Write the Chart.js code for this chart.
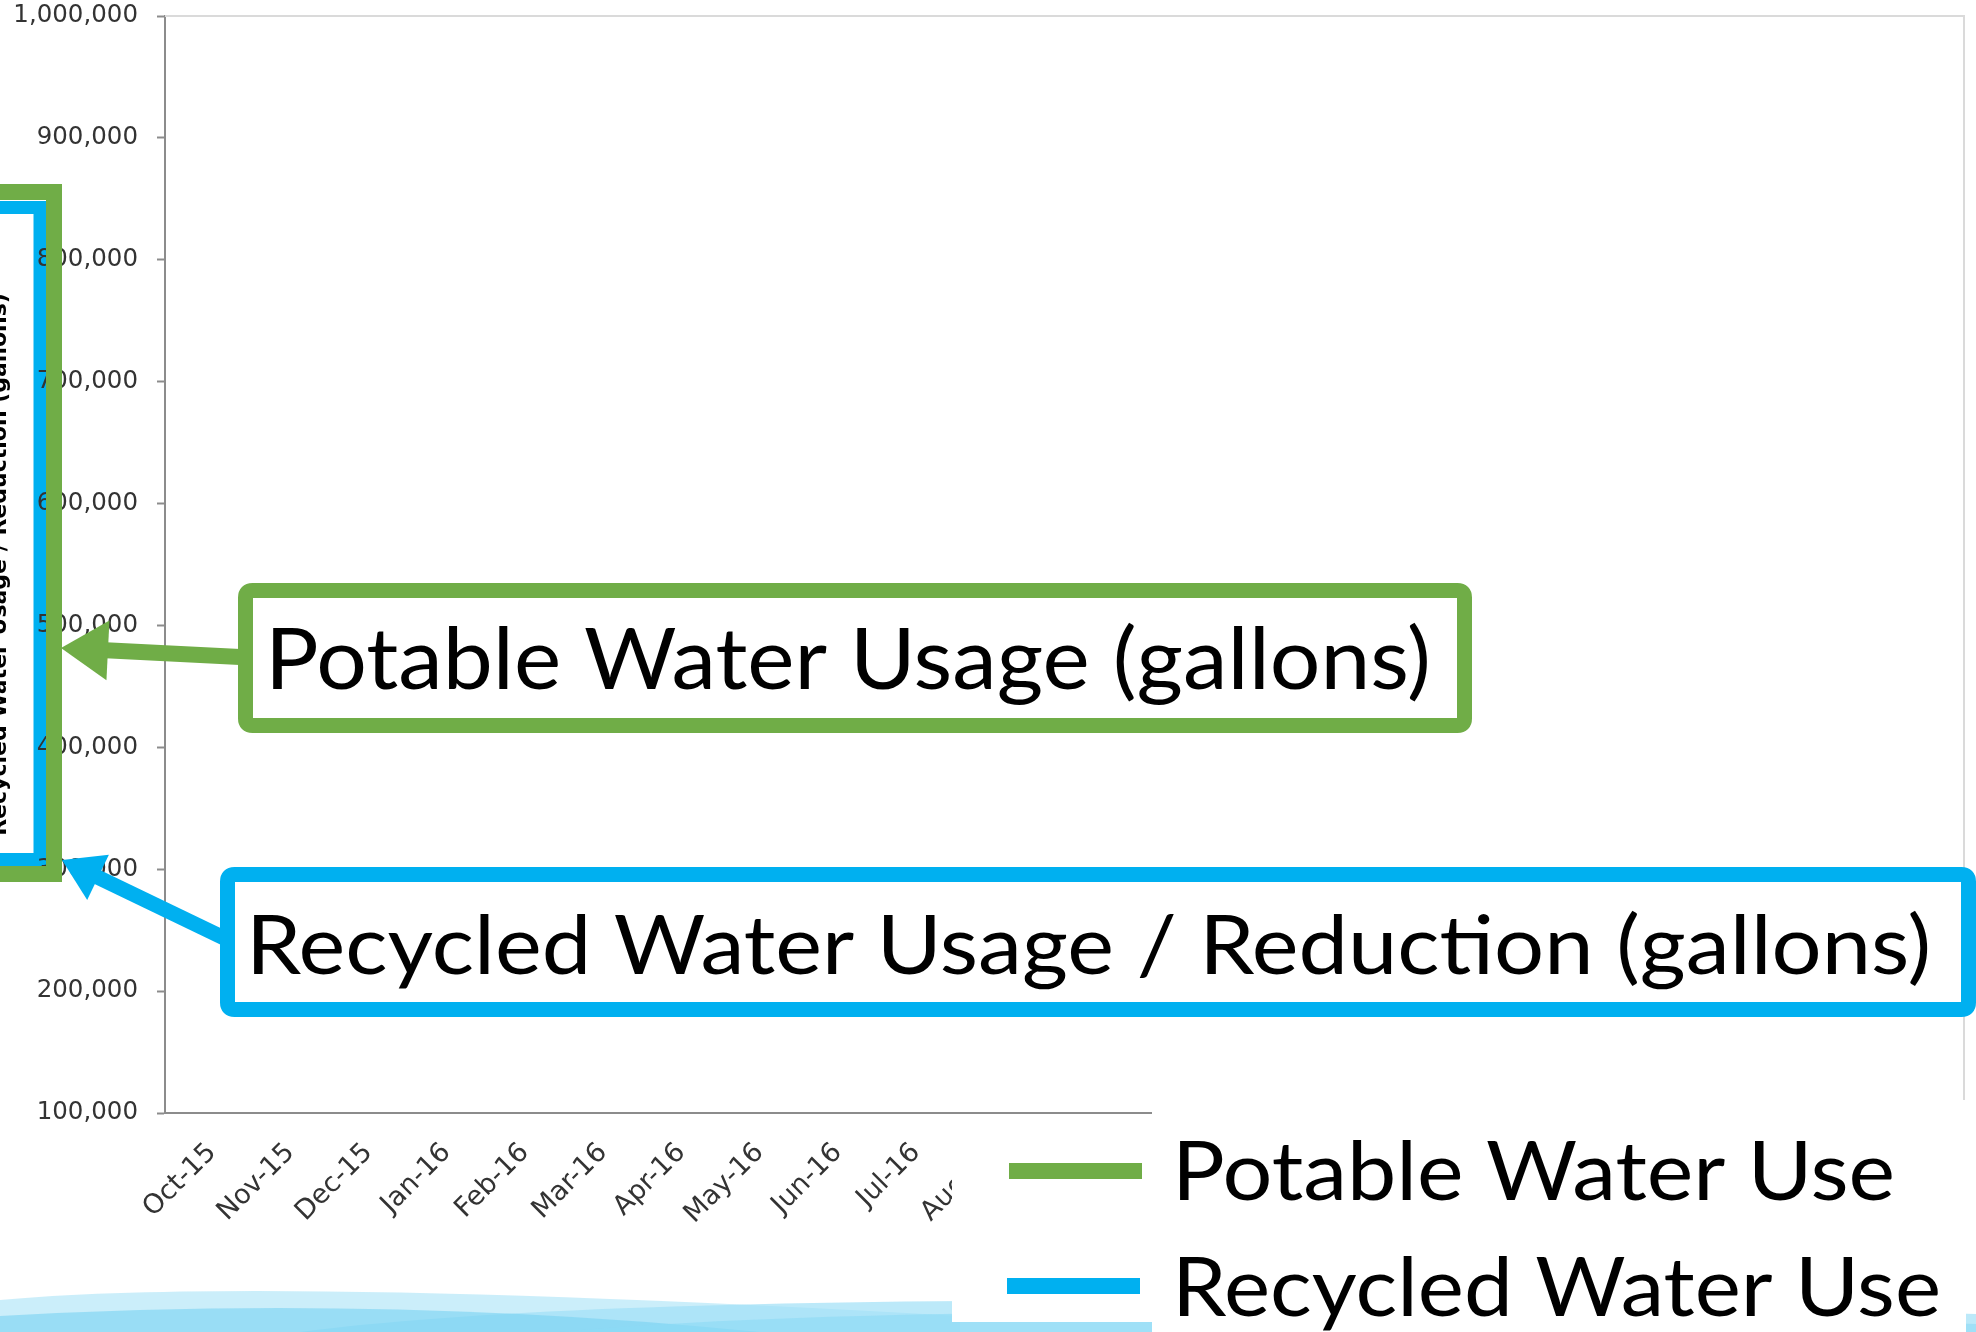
<!DOCTYPE html>
<html>
<head>
<meta charset="utf-8">
<title>Potable vs Recycled Water Use</title>
<script src="https://cdn.jsdelivr.net/npm/chart.js@4.4.1/dist/chart.umd.min.js"></script>
<style>
  html, body { margin: 0; padding: 0; background: #fff; overflow: hidden; }
  #wrap { position: absolute; left: -13px; top: 0; width: 1989px; height: 1332px; }
</style>
</head>
<body>
<div id="wrap"><canvas id="chart" width="1989" height="1332"></canvas></div>
<script>
const months = ["Oct-15", "Nov-15", "Dec-15", "Jan-16", "Feb-16", "Mar-16", "Apr-16", "May-16",
  "Jun-16", "Jul-16", "Aug-16", "Sep-16", "Oct-16", "Nov-16", "Dec-16", "Jan-17", "Feb-17",
  "Mar-17", "Apr-17", "May-17", "Jun-17", "Jul-17", "Aug-17"];

// no line is actually visible in the picture, so nothing to read
const potableUse = [null, null, null, null, null, null, null, null, null, null, null, null,
  null, null, null, null, null, null, null, null, null, null, null];
const recycledUse = [null, null, null, null, null, null, null, null, null, null, null, null,
  null, null, null, null, null, null, null, null, null, null, null];

const yTicks = [100000, 200000, 300000, 400000, 500000, 600000, 700000, 800000, 900000, 1000000];

const axisTitle = "Recycled Water Usage / Reduction (gallons)";
const potableCallout = "Potable Water Usage (gallons)";
const recycledCallout = "Recycled Water Usage / Reduction (gallons)";

const GREEN = "#70AD47";
const BLUE = "#00B0F0";
const AXIS = "#8c8c8c";
const OX = 13; // canvas starts 13px left of the page

function boxPath(ctx, x, y, w, h, r) {
  ctx.beginPath();
  ctx.moveTo(x + r, y);
  ctx.lineTo(x + w - r, y);
  ctx.quadraticCurveTo(x + w, y, x + w, y + r);
  ctx.lineTo(x + w, y + h - r);
  ctx.quadraticCurveTo(x + w, y + h, x + w - r, y + h);
  ctx.lineTo(x + r, y + h);
  ctx.quadraticCurveTo(x, y + h, x, y + h - r);
  ctx.lineTo(x, y + r);
  ctx.quadraticCurveTo(x, y, x + r, y);
  ctx.closePath();
}

// big Calibri-like text, stretched to the width it has in the slide
function fitText(ctx, text, x, baseline, capH, width) {
  ctx.save();
  ctx.font = (capH / 0.72).toFixed(1) + "px Lato";
  const w = ctx.measureText(text).width;
  ctx.translate(x, baseline);
  ctx.scale(width / w, 1);
  ctx.fillStyle = "#000";
  ctx.textAlign = "left";
  ctx.textBaseline = "alphabetic";
  ctx.fillText(text, 0, 0);
  ctx.restore();
}

function arrow(ctx, x1, y1, x2, y2, lw, headLen, headHalf, color) {
  const a = Math.atan2(y2 - y1, x2 - x1);
  const c = Math.cos(a), s = Math.sin(a);
  const bx = x2 - headLen * c, by = y2 - headLen * s;
  ctx.strokeStyle = color;
  ctx.lineWidth = lw;
  ctx.lineCap = "butt";
  ctx.beginPath();
  ctx.moveTo(x1, y1);
  ctx.lineTo(bx + 2 * c, by + 2 * s);
  ctx.stroke();
  ctx.fillStyle = color;
  ctx.beginPath();
  ctx.moveTo(x2, y2);
  ctx.lineTo(bx + headHalf * s, by - headHalf * c);
  ctx.lineTo(bx - headHalf * s, by + headHalf * c);
  ctx.closePath();
  ctx.fill();
}

function callout(ctx, x, y, w, h, color, text, tx, base, capH, tw) {
  boxPath(ctx, x, y, w, h, 7);
  ctx.fillStyle = "#fff";
  ctx.fill();
  ctx.lineWidth = 15;
  ctx.strokeStyle = color;
  ctx.stroke();
  fitText(ctx, text, tx, base, capH, tw);
}

const slidePlugin = {
  id: "slide",
  beforeDraw(chart) {
    const ctx = chart.ctx;
    ctx.save();
    ctx.fillStyle = "#fff";
    ctx.fillRect(0, 0, chart.width, chart.height);
    ctx.translate(OX, 0);

    // wave decoration along the bottom of the slide
    const waves = [
      { c: "rgba(190,234,249,0.8)", p: [0, 1300, 260, 1276, 960, 1316] },
      { c: "rgba(160,224,246,0.7)", p: [300, 1332, 700, 1280, 1976, 1314] },
      { c: "rgba(120,210,242,0.6)", p: [0, 1316, 380, 1294, 760, 1332] },
      { c: "rgba(140,218,245,0.6)", p: [560, 1332, 950, 1296, 1976, 1324] }
    ];
    waves.forEach(w => {
      const p = w.p;
      ctx.beginPath();
      ctx.moveTo(p[0], 1332);
      ctx.lineTo(p[0], p[1]);
      ctx.quadraticCurveTo(p[2], p[3], p[4], p[5]);
      ctx.lineTo(p[4], 1332);
      ctx.closePath();
      ctx.fillStyle = w.c;
      ctx.fill();
    });

    // blue frame round the axis title (sits under the tick labels)
    ctx.strokeStyle = BLUE;
    ctx.lineWidth = 13;
    ctx.strokeRect(-60, 207.5, 100, 652);
    ctx.restore();
  },
  afterDraw(chart) {
    const ctx = chart.ctx;
    const area = chart.chartArea;
    ctx.save();

    // plot-area border, top and right
    ctx.strokeStyle = "#dadada";
    ctx.lineWidth = 2;
    ctx.beginPath();
    ctx.moveTo(area.left, area.top);
    ctx.lineTo(area.right, area.top);
    ctx.lineTo(area.right, area.bottom);
    ctx.stroke();

    ctx.translate(OX, 0);

    // green frame round the axis title
    ctx.strokeStyle = GREEN;
    ctx.lineWidth = 16;
    ctx.strokeRect(-60, 192, 114, 682);

    // white legend panel that covers the end of the axis
    ctx.fillStyle = "#fff";
    ctx.fillRect(952, 1124, 200, 198);
    ctx.fillRect(1152, 1100, 814, 232);

    const legendRows = [
      { sx: 1009, sy: 1163, tb: 1200, tw: 723 },
      { sx: 1007, sy: 1278, tb: 1316, tw: 769 }
    ];
    chart.data.datasets.forEach((ds, i) => {
      const r = legendRows[i];
      ctx.fillStyle = ds.borderColor;
      ctx.fillRect(r.sx, r.sy, 133, 16);
      fitText(ctx, ds.label, 1172, r.tb, 59, r.tw);
    });

    arrow(ctx, 240, 657, 61, 648, 16, 47, 30, GREEN);
    arrow(ctx, 224, 938, 62, 860, 15, 40, 25, BLUE);

    callout(ctx, 245.5, 590.5, 1219, 135, GREEN, potableCallout, 265, 689, 61, 1166);
    callout(ctx, 227.5, 874.5, 1741, 135, BLUE, recycledCallout, 246, 974, 59, 1685);

    ctx.restore();
  }
};

const chart = new Chart(document.getElementById("chart"), {
  type: "line",
  data: {
    labels: months,
    datasets: [
      {
        label: "Potable Water Use",
        data: potableUse,
        borderColor: GREEN,
        backgroundColor: GREEN,
        borderWidth: 5,
        pointRadius: 0
      },
      {
        label: "Recycled Water Use",
        data: recycledUse,
        borderColor: BLUE,
        backgroundColor: BLUE,
        borderWidth: 5,
        pointRadius: 0
      }
    ]
  },
  options: {
    responsive: false,
    animation: false,
    devicePixelRatio: 1,
    layout: { padding: { top: 16, right: 12, bottom: 0, left: 0 } },
    plugins: {
      legend: { display: false },
      tooltip: { enabled: false }
    },
    scales: {
      x: {
        offset: true,
        grid: { display: false, drawTicks: false },
        border: { display: true, color: AXIS, width: 2 },
        ticks: {
          autoSkip: false,
          minRotation: 45,
          maxRotation: 45,
          padding: 24,
          labelOffset: 8,
          color: "#333",
          font: { family: "DejaVu Sans", size: 27 }
        },
        afterFit: s => { s.height = 219; }
      },
      y: {
        min: yTicks[0],
        max: yTicks[yTicks.length - 1],
        grid: { drawOnChartArea: false, drawTicks: true, tickLength: 8, tickColor: AXIS, tickWidth: 2 },
        border: { color: AXIS, width: 2 },
        ticks: {
          stepSize: yTicks[1] - yTicks[0],
          padding: 19,
          color: "#333",
          font: { family: "DejaVu Sans", size: 24.5 },
          callback: v => v.toLocaleString("en-US")
        },
        title: {
          display: true,
          text: axisTitle,
          color: "#000",
          padding: 0,
          font: { family: "DejaVu Sans", size: 22, weight: "bold", lineHeight: 1.2 }
        },
        afterFit: s => {
          s.width = 178;
          s.paddingTop = 0;
          s.paddingBottom = 0;
        }
      }
    }
  },
  plugins: [slidePlugin]
});
</script>
</body>
</html>
